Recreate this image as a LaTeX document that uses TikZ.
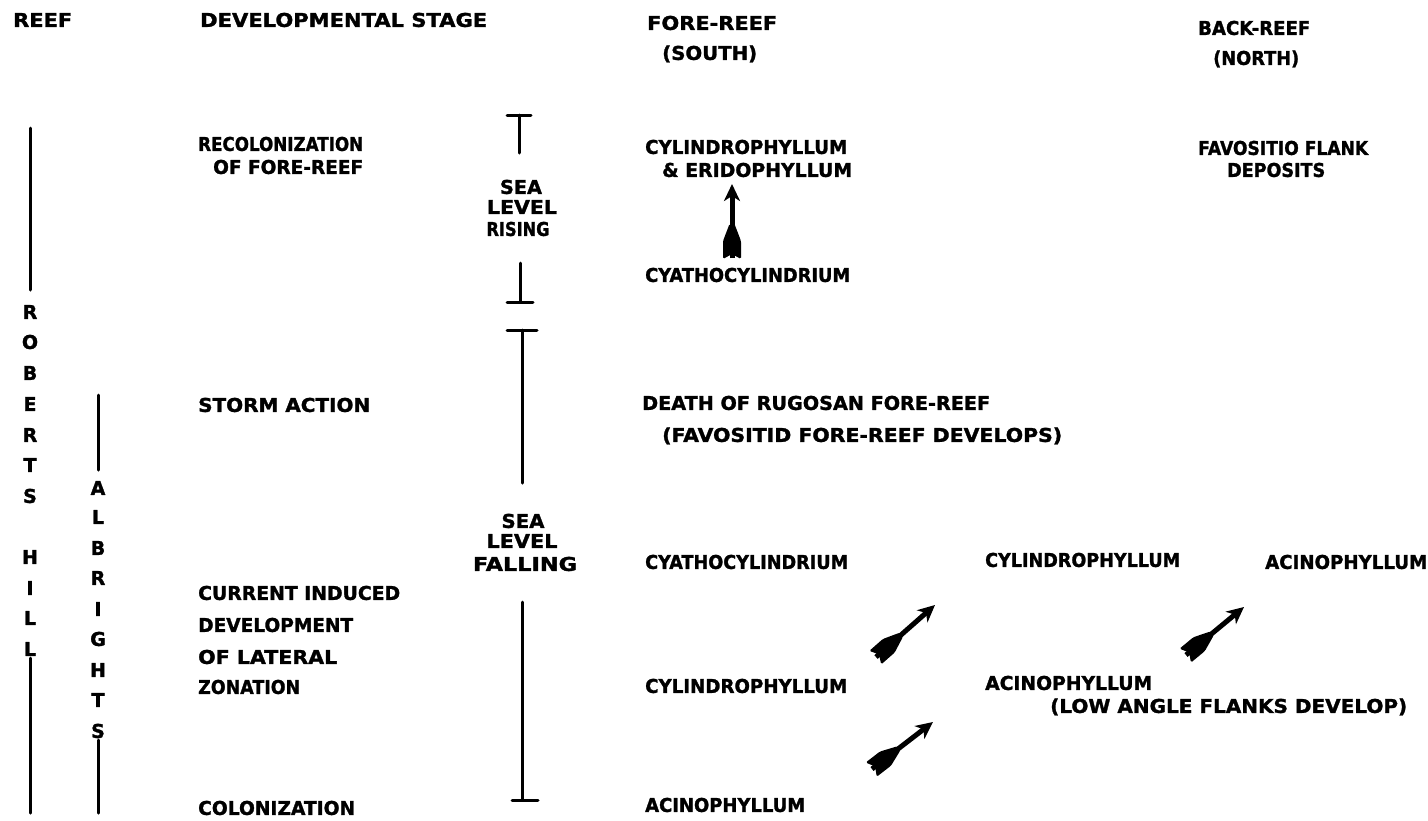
\documentclass[tikz,border=0pt]{standalone}
\usepackage{fontspec}
\setmainfont{DejaVu Sans}[BoldFeatures={FakeBold=1.5}]
\usetikzlibrary{arrows.meta,decorations.markings}
\newcommand\tw[2]{\resizebox{#1pt}{\height}{#2}}
\begin{document}
\begin{tikzpicture}[x=1pt,y=-1pt,
  lbl/.style={anchor=base west, inner sep=0pt, font=\fontsize{19}{22}\selectfont\bfseries, yshift=-6.9pt},
  clbl/.style={lbl, anchor=base},
  bar/.style={line width=3pt, line cap=round},
  fletched/.style={line width=5pt, -{Stealth[length=17pt,width=16pt,inset=5pt]},
    postaction={decorate, decoration={markings, mark=at position 0 with {
      \fill[rounded corners=1.5pt] (-1pt,9pt) -- (17pt,9pt) -- (34pt,2.5pt) -- (34pt,-2.5pt) -- (17pt,-9pt) -- (-1pt,-9pt) -- (4pt,0pt) -- cycle;}}}}
]
\useasboundingbox (0,0) rectangle (1428,820);

% headers
\node[lbl] (reef) at (13,20) {\tw{59}{REEF}};
\node[lbl] (devst) at (200,20) {\tw{287}{DEVELOPMENTAL STAGE}};
\node[lbl] (fore1) at (647,23) {\tw{130}{FORE-REEF}};
\node[lbl] (fore2) at (662,53) {\tw{95}{(SOUTH)}};
\node[lbl] (back1) at (1198,28) {\tw{112}{BACK-REEF}};
\node[lbl] (back2) at (1213,58) {\tw{86}{(NORTH)}};

% recolonization row
\node[lbl] (recol1) at (198,144) {\tw{165}{RECOLONIZATION}};
\node[lbl] (recol2) at (213,167) {\tw{150}{OF FORE-REEF}};
\node[clbl] (rise1) at (521,187) {\tw{42}{SEA}};
\node[clbl] (rise2) at (522,207) {\tw{70}{LEVEL}};
\node[clbl] (rise3) at (518,229) {\tw{63}{RISING}};
\node[lbl] (cyl1) at (645,147) {\tw{202}{CYLINDROPHYLLUM}};
\node[lbl] (cyl2) at (662,170) {\tw{190}{\& ERIDOPHYLLUM}};
\node[lbl] (cyath1) at (645,275) {\tw{205}{CYATHOCYLINDRIUM}};
\node[lbl] (fav1) at (1198,148) {\tw{170}{FAVOSITIO FLANK}};
\node[lbl] (fav2) at (1227,170) {\tw{98}{DEPOSITS}};

% storm row
\node[lbl] (storm) at (198,405) {\tw{172}{STORM ACTION}};
\node[lbl] (death1) at (642,403) {\tw{348}{DEATH OF RUGOSAN FORE-REEF}};
\node[lbl] (death2) at (662,435) {\tw{400}{(FAVOSITID FORE-REEF DEVELOPS)}};

% falling
\node[clbl] (fall1) at (523,521) {\tw{43}{SEA}};
\node[clbl] (fall2) at (522,541) {\tw{71}{LEVEL}};
\node[clbl] (fall3) at (525,564) {\tw{104}{FALLING}};

% lateral zonation
\node[lbl] (cyath2) at (645,562) {\tw{203}{CYATHOCYLINDRIUM}};
\node[lbl] (cylr) at (985,560) {\tw{195}{CYLINDROPHYLLUM}};
\node[lbl] (acinr) at (1265,562) {\tw{162}{ACINOPHYLLUM}};
\node[lbl] (curr1) at (198,593) {\tw{202}{CURRENT INDUCED}};
\node[lbl] (curr2) at (198,625) {\tw{155}{DEVELOPMENT}};
\node[lbl] (curr3) at (198,657) {\tw{139}{OF LATERAL}};
\node[lbl] (curr4) at (198,687) {\tw{102}{ZONATION}};
\node[lbl] (cyl3) at (645,686) {\tw{202}{CYLINDROPHYLLUM}};
\node[lbl] (acin2) at (985,683) {\tw{167}{ACINOPHYLLUM}};
\node[lbl] (low) at (1050,706) {\tw{357}{(LOW ANGLE FLANKS DEVELOP)}};
\node[lbl] (colon) at (198,808) {\tw{157}{COLONIZATION}};
\node[lbl] (acin3) at (645,805) {\tw{160}{ACINOPHYLLUM}};

% Roberts Hill vertical letters
\foreach \l/\yy [count=\i] in {R/312,O/342,B/373,E/404,R/435,T/465,S/496,H/557,I/588,L/618,L/649}
  \node[clbl] (rh\i) at (30,\yy) {\l};
% Albrights vertical letters
\foreach \l/\yy [count=\i] in {A/488,L/517,B/548,R/578,I/609,G/639,H/670,T/700,S/731}
  \node[clbl] (al\i) at (98,\yy) {\l};

% formation lines
\coordinate (rhA) at (30,128); \coordinate (rhB) at (30,290);
\coordinate (rhC) at (30,658); \coordinate (rhD) at (30,813);
\coordinate (alA) at (98,395); \coordinate (alB) at (98,470);
\coordinate (alC) at (98,740); \coordinate (alD) at (98,813);
\draw[bar] (rhA) -- (rhB);
\draw[bar] (rhC) -- (rhD);
\draw[bar] (alA) -- (alB);
\draw[bar] (alC) -- (alD);

% sea level rising bars
\coordinate (sr1l) at (507,115); \coordinate (sr1r) at (531,115);
\coordinate (sr1a) at (519,115); \coordinate (sr1b) at (519,153);
\coordinate (sr2a) at (520,263); \coordinate (sr2b) at (520,302);
\coordinate (sr2l) at (507,302); \coordinate (sr2r) at (533,302);
\draw[bar] (sr1l) -- (sr1r);
\draw[bar] (sr1a) -- (sr1b);
\draw[bar] (sr2a) -- (sr2b);
\draw[bar] (sr2l) -- (sr2r);

% sea level falling bars
\coordinate (sf1l) at (507,330); \coordinate (sf1r) at (537,330);
\coordinate (sf1a) at (522,330); \coordinate (sf1b) at (522,483);
\coordinate (sf2a) at (522,602); \coordinate (sf2b) at (522,800);
\coordinate (sf2l) at (512,800); \coordinate (sf2r) at (538,800);
\draw[bar] (sf1l) -- (sf1r);
\draw[bar] (sf1a) -- (sf1b);
\draw[bar] (sf2a) -- (sf2b);
\draw[bar] (sf2l) -- (sf2r);

% fletched arrows
\coordinate (vaT) at (732,258); \coordinate (vaH) at (732,184);
\coordinate (d1T) at (876,657); \coordinate (d1H) at (935,605);
\coordinate (d2T) at (872,769); \coordinate (d2H) at (933,722);
\coordinate (d3T) at (1186,655); \coordinate (d3H) at (1244,607);
\draw[fletched] (vaT) -- (vaH);
\draw[fletched] (d1T) -- (d1H);
\draw[fletched] (d2T) -- (d2H);
\draw[fletched] (d3T) -- (d3H);
\end{tikzpicture}
\end{document}
